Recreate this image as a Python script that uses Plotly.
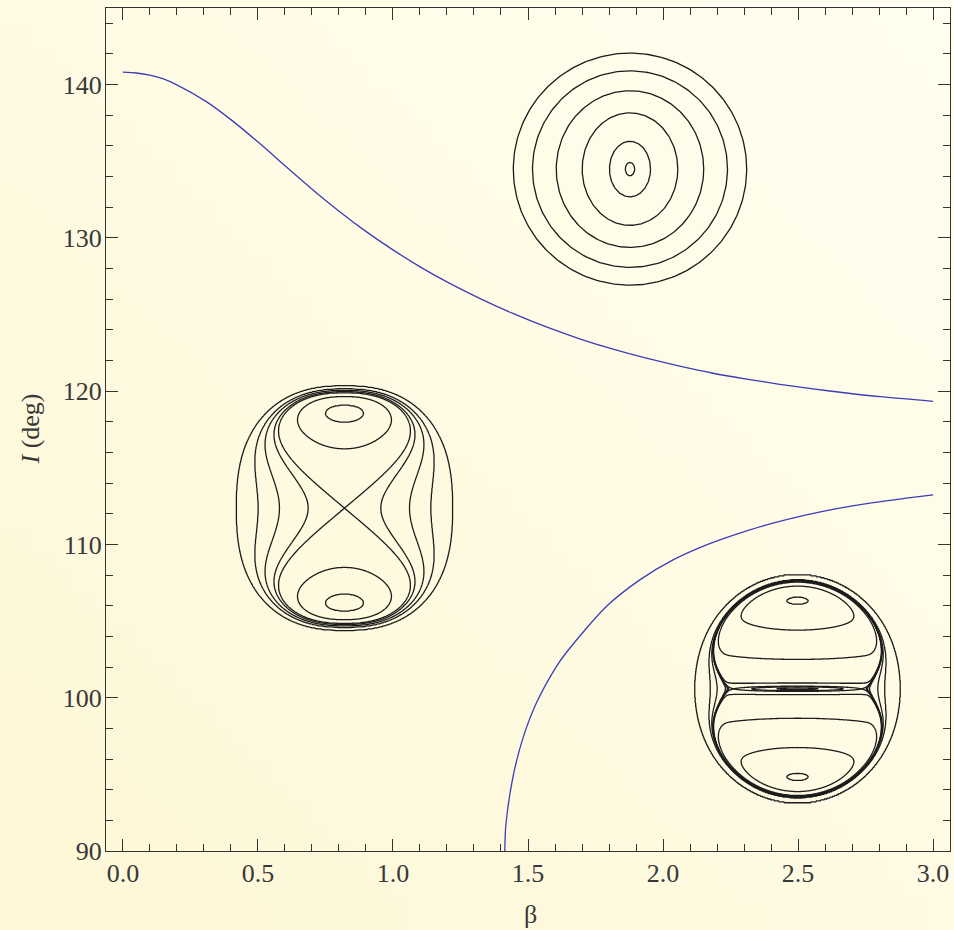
import numpy as np
import plotly.graph_objects as go
import base64, zlib, struct

# ---------------- data : blue boundary curves ----------------
upper_beta = [0.0, 0.05, 0.099, 0.15, 0.198, 0.309, 0.407, 0.506, 0.605, 0.704, 0.803, 0.901, 1.0,
              1.099, 1.198, 1.321, 1.444, 1.568, 1.691, 1.815, 1.938, 2.062, 2.185,
              2.309, 2.432, 2.556, 2.679, 2.803, 3.0]
upper_I = [140.81, 140.76, 140.62, 140.37, 140.00, 138.89, 137.62, 136.17, 134.64, 133.13, 131.71, 130.41, 129.22,
           128.13, 127.15, 126.06, 125.07, 124.19, 123.42, 122.74, 122.15, 121.63, 121.17,
           120.79, 120.45, 120.15, 119.88, 119.64, 119.34]
lower_beta = [1.4142, 1.418, 1.444, 1.481, 1.531, 1.605, 1.642, 1.790, 1.914, 2.037, 2.161,
              2.284, 2.407, 2.531, 2.654, 2.778, 2.901, 3.0]
lower_I = [90.0, 91.7, 94.8, 97.35, 99.65, 102.03, 102.95, 105.95, 107.69, 108.99, 109.97,
           110.74, 111.39, 111.93, 112.37, 112.73, 113.02, 113.24]

# ---------------- data : phase-portrait insets ----------------
# top inset: concentric orbits, semi-axes (beta units, degrees)
top_center = (1.8776, 134.49)
top_rx = [0.432, 0.361, 0.273, 0.177, 0.076, 0.0174]
top_ry = [7.57, 6.41, 5.11, 3.67, 1.81, 0.437]

# left inset: each orbit identified by where it crosses the inset's axes (fraction of radius)
left_center = (0.8205, 112.37)
left_radius = (0.4628, 8.15)
left_waists = [0.29, 0.52, 0.69, 0.864]
left_island_cuts = [0.475, 0.686]

# right inset
right_center = (2.4978, 100.58)
right_radius = (0.385, 7.37)
right_eye = [0.2, 0.44]
right_outer = [0.691, 0.772, 0.837, 0.986]
right_island_cuts = [0.05, 0.26, 0.52, 0.746]

INK = '#1c1c1c'
AX = '#333333'
TXT = '#383838'
FONT = 'Liberation Serif, Times New Roman, serif'


def grid(ext=1.06, n=501, a=2.0):
    t = np.linspace(-1, 1, n)
    u = np.linspace(-ext, ext, n)
    v = ext * np.sinh(a * t) / np.sinh(a)
    U, V = np.meshgrid(u, v)
    return u, v, U, V


def f_left(U, V, c=1.209, gam=0.517, kap=0.1021, ax=0.9, ay=1.0, m=2.4):
    # double-well in v, saddle at the centre, barrier at a rounded rim
    U = np.asarray(U, float); V = np.asarray(V, float)
    q = ((np.abs(U) / ax) ** m + (np.abs(V) / ay) ** m) ** (2.0 / m)
    qc = np.minimum(q, 0.999999)
    F = V ** 2 - V ** 4 / (2 * c ** 2) - gam * U ** 2 - kap * qc / (1 - qc)
    return np.maximum(np.where(q >= 1, -10.0, F), -10.0)


def soft_sq(x, w):
    return ((x + np.sqrt(x ** 2 + w ** 2)) / 2) ** 2


def f_right(U, V, c=0.8, eps=0.0015, zeta=0.45, B=2.0, u1=0.68, w=0.04, kap=0.79, n=24):
    U = np.asarray(U, float); V = np.asarray(V, float)
    R2 = U ** 2 + V ** 2
    return (V ** 2 - V ** 4 / (2 * c ** 2) + eps * U ** 2 - zeta * U ** 2 * V ** 2
            - B * soft_sq(np.abs(U) - u1, w) - kap * R2 ** (n / 2))


def contour_trace(f, levels, center, radius):
    u, v, U, V = grid()
    F = f(U, V)
    lv = np.unique(np.round(np.array(levels, dtype=float), 12))
    xp = np.concatenate([[F.min() - 1.0], lv, [F.max() + 1.0]])
    fp = np.arange(len(xp), dtype=float)
    G = np.round(np.interp(F, xp, fp), 4)
    return go.Contour(
        x=center[0] + u * radius[0], y=center[1] + v * radius[1], z=G,
        autocontour=False,
        contours=dict(start=1, end=len(lv), size=1, coloring='none'),
        line=dict(color=INK, width=1.3, smoothing=0.8),
        showscale=False, hoverinfo='skip')


fig = go.Figure()

# left inset levels
lev_left = [float(f_left(0.0, 0.0))]
lev_left += [float(f_left(w, 0.0)) for w in left_waists]
lev_left += [float(f_left(0.0, c)) for c in left_island_cuts]
fig.add_trace(contour_trace(f_left, lev_left, left_center, left_radius))

# right inset levels
uu = np.linspace(0.3, 0.95, 20001)
fs = float(np.max(f_right(uu, 0 * uu)))
lev_right = [fs]
lev_right += [float(f_right(w, 0.0)) for w in right_eye + right_outer]
lev_right += [float(f_right(0.0, c)) for c in right_island_cuts]
fig.add_trace(contour_trace(f_right, lev_right, right_center, right_radius))

# top inset orbits
tt = np.linspace(0, 2 * np.pi, 241)
for rx, ry in zip(top_rx, top_ry):
    fig.add_trace(go.Scatter(x=top_center[0] + rx * np.cos(tt), y=top_center[1] + ry * np.sin(tt),
                             mode='lines', line=dict(color=INK, width=1.3),
                             hoverinfo='skip', showlegend=False))

# blue curves
for bx, by in ((upper_beta, upper_I), (lower_beta, lower_I)):
    fig.add_trace(go.Scatter(x=bx, y=by, mode='lines',
                             line=dict(color='#3d3db8', width=1.3, shape='spline', smoothing=0.8),
                             hoverinfo='skip', showlegend=False))


# ---------------- background gradient image ----------------
def png_uri(w, h, col):
    raw = bytearray()
    for j in range(h):
        raw.append(0)
        for i in range(w):
            raw += bytes(col(i / (w - 1), j / (h - 1)))

    def chunk(t, d):
        return struct.pack('>I', len(d)) + t + d + struct.pack('>I', zlib.crc32(t + d) & 0xffffffff)

    png = (b'\x89PNG\r\n\x1a\n' + chunk(b'IHDR', struct.pack('>IIBBBBB', w, h, 8, 2, 0, 0, 0))
           + chunk(b'IDAT', zlib.compress(bytes(raw))) + chunk(b'IEND', b''))
    return 'data:image/png;base64,' + base64.b64encode(png).decode()


light = np.array([255, 254, 240])
warm = np.array([254, 247, 214])


def bg(xf, yf):
    d = ((1 - xf) + yf) / 2
    c = light + (warm - light) * d
    return [int(round(k)) for k in c]


W, H = 954, 930
ML, MR, MT, MB = 106, 4, 8, 79
PW, PH = W - ML - MR, H - MT - MB

fig.add_layout_image(dict(source=png_uri(48, 48, bg), xref='paper', yref='paper',
                          x=-ML / PW, y=1 + MT / PH, sizex=W / PW, sizey=H / PH,
                          xanchor='left', yanchor='top', sizing='stretch', layer='below'))

axis_common = dict(showgrid=False, zeroline=False, showline=True, linecolor=AX, linewidth=1.1,
                   ticks='inside', ticklen=12, tickwidth=1, tickcolor=AX, mirror='ticks',
                   tickfont=dict(family=FONT, size=26, color=TXT))

fig.update_layout(
    width=W, height=H, margin=dict(l=ML, r=MR, t=MT, b=MB),
    paper_bgcolor='#fefae3', plot_bgcolor='rgba(0,0,0,0)',
    showlegend=False,
    xaxis=dict(range=[-0.0625, 3.0625], tick0=0, dtick=0.5, tickformat='.1f',
               minor=dict(ticks='inside', ticklen=7, tick0=0, dtick=0.1, tickcolor=AX, tickwidth=1),
               ticklabelstandoff=-1, **axis_common),
    yaxis=dict(range=[90, 145], tick0=90, dtick=10,
               minor=dict(ticks='inside', ticklen=7, tick0=90, dtick=2, tickcolor=AX, tickwidth=1),
               ticklabelstandoff=-2, **axis_common),
    annotations=[
        dict(text='β', xref='paper', yref='paper', x=(530 - ML) / PW, y=-(914 - (H - MB)) / PH,
             xanchor='center', yanchor='middle', showarrow=False,
             font=dict(family=FONT, size=26, color=TXT)),
        dict(text='<i>I</i> (deg)', xref='paper', yref='paper', x=(30 - ML) / PW, y=0.5,
             xanchor='center', yanchor='middle', textangle=-90, showarrow=False,
             font=dict(family=FONT, size=26, color=TXT)),
    ],
)

fig.write_html('out.html')
